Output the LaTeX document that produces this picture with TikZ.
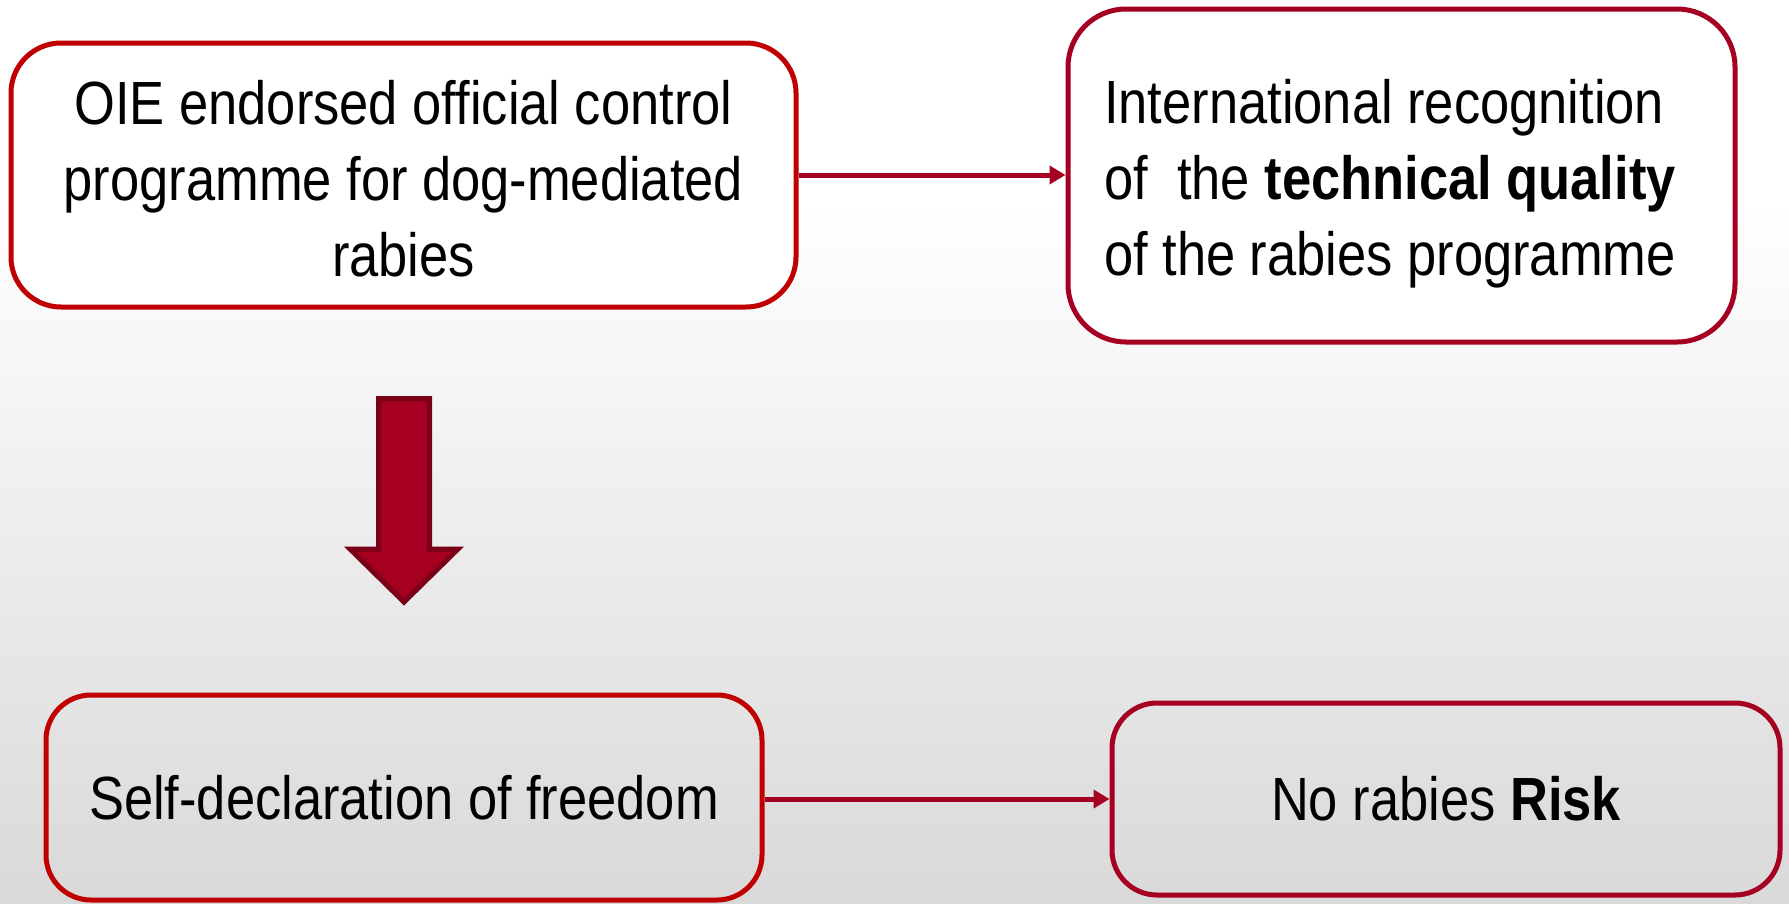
\documentclass[tikz,border=0pt]{standalone}
\usepackage{fontspec}
\setmainfont{Liberation Sans}[FakeStretch=0.86]
\usetikzlibrary{arrows.meta}
\definecolor{redA}{HTML}{C00000}
\definecolor{redB}{HTML}{A50021}
\definecolor{redD}{HTML}{7A0018}
\definecolor{bgbot}{HTML}{D9D9D9}
\tikzset{
  box/.style={draw, line width=5pt, inner sep=0pt, align=center,
    font=\fontsize{61}{76}\selectfont},
  conn/.style={draw=redB, line width=5pt, -{Triangle[length=16pt,width=18pt]}},
}
\begin{document}
\begin{tikzpicture}[x=1pt,y=-1pt]
\useasboundingbox (0,0) rectangle (1789,903);
\fill[white] (0,0) rectangle (1789,903);
\shade[top color=white, bottom color=bgbot] (0,200) rectangle (1789,903);

\node[box, draw=redA, fill=white, rounded corners=50pt, minimum width=785pt, minimum height=264pt]
  (box1) at (403.5,175) {};
\node[inner sep=0pt, align=center, font=\fontsize{61}{76}\selectfont]
  (box1text) at (403.5,179) {OIE endorsed official control\\programme for dog-mediated\\rabies};
\node[box, draw=redB, fill=white, rounded corners=58pt, minimum width=667pt, minimum height=333pt]
  (box2) at (1401.5,175.5) {};
\node[inner sep=0pt, align=left, anchor=west, font=\fontsize{61}{76}\selectfont]
  (box2text) at (1104,184) {International recognition\\of~~the \textbf{technical quality}\\of the rabies programme};
\node[box, draw=redA, rounded corners=45pt, minimum width=716pt, minimum height=205pt]
  (box3) at (404,797.5) {Self-declaration of freedom};
\node[box, draw=redB, rounded corners=45pt, minimum width=668pt, minimum height=192pt]
  (box4) at (1446,799) {No rabies \textbf{Risk}};

\draw[conn] (box1.east) -- (box1.east -| box2.west);
\draw[conn] (box3.east |- box4.west) -- (box4.west);

\draw[fill=redB, draw=redD, line width=5pt, line join=miter]
  (378.5,398.5) -- (429.5,398.5) -- (429.5,549) -- (458,549) -- (404,602)
  -- (350,549) -- (378.5,549) -- cycle;
\end{tikzpicture}
\end{document}
